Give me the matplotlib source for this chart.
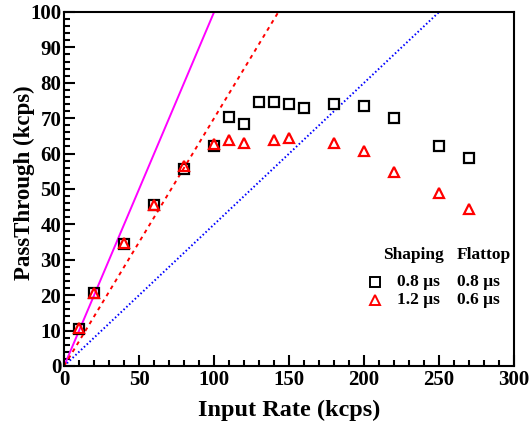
import numpy as np
import matplotlib
matplotlib.use("Agg")
import matplotlib.pyplot as plt
from matplotlib.ticker import MultipleLocator

plt.rcParams['font.family'] = ['Liberation Serif', 'DejaVu Serif']
plt.rcParams['font.weight'] = 'bold'

# 数据
rate_sq = [10, 20, 40, 60, 80, 100, 110, 120, 130, 140, 150, 160, 180, 200, 220, 250, 270]
pass_sq = [10.5, 20.5, 34.4, 45.4, 55.6, 62.2, 70.2, 68.3, 74.5, 74.5, 74.0, 72.8, 73.9, 73.4, 70.1, 62.0, 58.8]
rate_tri = [10, 20, 40, 60, 80, 100, 110, 120, 140, 150, 180, 200, 220, 250, 270]
pass_tri = [10.6, 20.6, 34.6, 45.6, 56.4, 62.7, 63.8, 62.9, 63.7, 64.4, 63.0, 60.8, 54.9, 49.0, 44.3]

ref_x = [0, 300]
ref_slopes = [1.0, 0.7, 0.4]
ref_colors = ['magenta', 'red', 'blue']
ref_styles = ['-', (0, (2, 2.2)), (0, (0.8, 1.2))]

fig = plt.figure(figsize=(5.3, 4.28), dpi=100)
ax = fig.add_axes([0.121, 0.145, 0.849, 0.827])

for k, c, ls in zip(ref_slopes, ref_colors, ref_styles):
    ax.plot(ref_x, [k * v for v in ref_x], color=c, ls=ls, lw=1.4)

ax.plot(rate_sq, pass_sq, 's', ms=7.5, mfc='none', mec='black', mew=1.6)
ax.plot(rate_tri, pass_tri, '^', ms=7.5, mfc='none', mec='red', mew=1.6)

ax.set_xlim(0, 300)
ax.set_ylim(0, 100)
ax.xaxis.set_major_locator(MultipleLocator(50))
ax.xaxis.set_minor_locator(MultipleLocator(10))
ax.yaxis.set_major_locator(MultipleLocator(10))
ax.yaxis.set_minor_locator(MultipleLocator(2))
ax.tick_params(which='both', direction='in', top=False, right=False, width=1.5)
ax.tick_params(which='major', length=8, labelsize=15)
ax.tick_params(axis='y', which='major', pad=2)
ax.tick_params(axis='x', which='major', pad=3)
ax.tick_params(which='minor', length=4)
for s in ax.spines.values():
    s.set_linewidth(1.5)

ax.set_xlabel('Input Rate (kcps)', fontsize=17.5, fontweight='bold', labelpad=7)
ax.set_ylabel('PassThrough (kcps)', fontsize=16.5, fontweight='bold')
ax.yaxis.set_label_coords(-0.064, 0.517)

# 图例
lx = [0.691, 0.709, 0.74, 0.873]
ly = [0.314, 0.237, 0.186]
ax.text(lx[1], ly[0], 'Shaping', transform=ax.transAxes, fontsize=12.5, fontweight='bold', va='center')
ax.text(lx[3], ly[0], 'Flattop', transform=ax.transAxes, fontsize=12.5, fontweight='bold', va='center')
ax.plot([lx[0]], [ly[1]], 's', transform=ax.transAxes, ms=7, mfc='none', mec='black', mew=1.4)
ax.plot([lx[0]], [ly[2]], '^', transform=ax.transAxes, ms=7, mfc='none', mec='red', mew=1.4)
ax.text(lx[2], ly[1], '0.8 μs', transform=ax.transAxes, fontsize=12.5, fontweight='bold', va='center')
ax.text(lx[3], ly[1], '0.8 μs', transform=ax.transAxes, fontsize=12.5, fontweight='bold', va='center')
ax.text(lx[2], ly[2], '1.2 μs', transform=ax.transAxes, fontsize=12.5, fontweight='bold', va='center')
ax.text(lx[3], ly[2], '0.6 μs', transform=ax.transAxes, fontsize=12.5, fontweight='bold', va='center')

fig.savefig('out.png', dpi=100)
